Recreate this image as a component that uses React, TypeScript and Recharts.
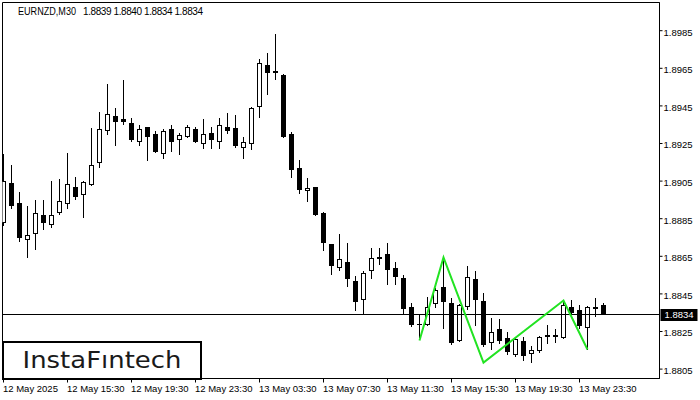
import React from 'react';
import { ComposedChart, Bar, Line, XAxis, YAxis, ReferenceLine, ReferenceArea } from 'recharts';

const symbol = 'EURNZD,M30';
const brand = 'InstaFıntech';

const timeTickIdx = [0, 8, 16, 24, 32, 40, 48, 56, 64, 72];
const timeLabels = [
  '12 May 2025',
  '12 May 15:30',
  '12 May 19:30',
  '12 May 23:30',
  '13 May 03:30',
  '13 May 07:30',
  '13 May 11:30',
  '13 May 15:30',
  '13 May 19:30',
  '13 May 23:30',
];

const priceTicks = [1.8805, 1.8825, 1.8845, 1.8865, 1.8885, 1.8905, 1.8925, 1.8945, 1.8965, 1.8985];

// OHLC, one entry per 30 min bar
const opens = [
  1.88828, 1.89041, 1.88931, 1.88736, 1.8877, 1.88872, 1.88815, 1.88879, 1.88927, 1.89021,
  1.88975, 1.89028, 1.89145, 1.89315, 1.89397, 1.89378, 1.8936, 1.89259, 1.89338, 1.89298,
  1.89195, 1.89328, 1.8927, 1.89286, 1.89328, 1.89248, 1.89307, 1.89259, 1.8934, 1.8933,
  1.89227, 1.89248, 1.89445, 1.8967, 1.89638, 1.89617, 1.89298, 1.89121, 1.88996, 1.8902,
  1.88881, 1.88713, 1.88589, 1.88621, 1.88521, 1.8842, 1.88571, 1.88633, 1.8866, 1.88589,
  1.88532, 1.88381, 1.88292, 1.88282, 1.88394, 1.88486, 1.88403, 1.88198, 1.88381, 1.8853,
  1.8841, 1.8819, 1.88261, 1.88213, 1.88126, 1.88202, 1.88131, 1.88144, 1.88232, 1.88232,
  1.88213, 1.88381, 1.88362, 1.8827, 1.88371, 1.8839,
];
const highs = [
  1.89192, 1.89138, 1.88991, 1.8892, 1.88952, 1.88952, 1.8905, 1.89059, 1.89197, 1.89071,
  1.8905, 1.8933, 1.8942, 1.89569, 1.8944, 1.8959, 1.89387, 1.89349, 1.8934, 1.89315,
  1.89328, 1.89349, 1.89307, 1.89349, 1.8934, 1.89378, 1.8934, 1.89387, 1.8941, 1.89399,
  1.89284, 1.89445, 1.89697, 1.89729, 1.8983, 1.8962, 1.8931, 1.8916, 1.89068, 1.89021,
  1.88888, 1.88715, 1.8877, 1.88722, 1.88544, 1.88571, 1.88692, 1.88692, 1.88722, 1.88622,
  1.88548, 1.88403, 1.8834, 1.88432, 1.88482, 1.88633, 1.88429, 1.88396, 1.88597, 1.88571,
  1.88456, 1.88323, 1.88314, 1.88248, 1.88222, 1.88222, 1.88172, 1.88225, 1.88282, 1.88261,
  1.8842, 1.8842, 1.88392, 1.88384, 1.88429, 1.884,
];
const lows = [
  1.8881, 1.88904, 1.88725, 1.8864, 1.88686, 1.88789, 1.88803, 1.88869, 1.88904, 1.88948,
  1.88855, 1.89025, 1.89119, 1.89294, 1.89236, 1.89346, 1.89257, 1.89236, 1.89156, 1.892,
  1.89169, 1.89204, 1.89188, 1.8928, 1.89254, 1.89223, 1.89223, 1.89223, 1.89303, 1.89228,
  1.89169, 1.89214, 1.89387, 1.89507, 1.89587, 1.8928, 1.89064, 1.88984, 1.88938, 1.88867,
  1.88677, 1.88549, 1.88571, 1.88488, 1.88358, 1.8834, 1.88527, 1.88603, 1.88496, 1.88496,
  1.8834, 1.88275, 1.88217, 1.88278, 1.88376, 1.88261, 1.88176, 1.88196, 1.88362, 1.88278,
  1.8817, 1.88151, 1.88181, 1.88124, 1.88115, 1.88092, 1.88084, 1.88138, 1.88181, 1.8819,
  1.8821, 1.8834, 1.88261, 1.88154, 1.88328, 1.8834,
];
const closes = [
  1.8905, 1.88917, 1.88746, 1.88761, 1.88881, 1.88826, 1.88871, 1.88942, 1.89032, 1.88963,
  1.89043, 1.89138, 1.89328, 1.89408, 1.89365, 1.89365, 1.89268, 1.89328, 1.89286, 1.89204,
  1.89319, 1.89259, 1.89296, 1.89337, 1.89259, 1.89298, 1.8927, 1.89351, 1.89315, 1.89236,
  1.89259, 1.8944, 1.89679, 1.89626, 1.89626, 1.89286, 1.89108, 1.89005, 1.89011, 1.88869,
  1.88722, 1.88597, 1.88633, 1.8853, 1.88408, 1.88562, 1.88642, 1.88647, 1.88576, 1.88541,
  1.88371, 1.88282, 1.8829, 1.88379, 1.8847, 1.88408, 1.8819, 1.88392, 1.88541, 1.88418,
  1.88176, 1.88248, 1.88198, 1.8814, 1.88211, 1.88119, 1.88154, 1.88222, 1.88222, 1.88222,
  1.88392, 1.88349, 1.88278, 1.88381, 1.88381, 1.8834,
];

// green pattern outline
const zigIdx = [52, 55, 60, 70, 73];
const zigPrice = [1.88202, 1.88644, 1.88085, 1.88415, 1.88154];

const lastPrice = 1.8834;

const data = opens.map((o, i) => ({
  k: i,
  o,
  h: highs[i],
  l: lows[i],
  c: closes[i],
  zig: zigIdx.includes(i) ? zigPrice[zigIdx.indexOf(i)] : null,
}));

const last = data[data.length - 1];
const FONT = '"Liberation Sans", Arial, sans-serif';

function Candle(props: any) {
  const { x, y, width, height, payload } = props;
  if (!payload || height == null) return null;
  const { o, h, l, c } = payload;
  const per = h - l > 0 ? height / (h - l) : 0;
  const py = (v: number) => y + (h - v) * per;
  const cx = Math.round(x + width / 2 - 0.5) + 0.5;
  const left = cx - 2.5;
  const top = Math.round(py(Math.max(o, c)));
  const bot = Math.round(py(Math.min(o, c)));
  const up = c > o;
  return (
    <g>
      <line x1={cx} x2={cx} y1={Math.round(y)} y2={Math.round(y + height)} stroke="#000" strokeWidth={1} />
      {up ? (
        <rect x={left + 0.5} y={top + 0.5} width={4} height={Math.max(bot - top - 1, 0)} fill="#fff" stroke="#000" strokeWidth={1} />
      ) : (
        <rect x={left} y={top} width={5} height={Math.max(bot - top, 1)} fill="#000" />
      )}
    </g>
  );
}

function TimeTick(props: any) {
  const { x, y, payload } = props;
  const idx = timeTickIdx.indexOf(payload.value);
  return (
    <text x={x - 0.5} y={y} dy="0.71em" textAnchor="start" fontSize={9.5} fontFamily={FONT} fill="#000">
      {timeLabels[idx]}
    </text>
  );
}

function PriceTick(props: any) {
  const { x, y, payload } = props;
  return (
    <text x={x} y={y + 1.5} dy="0.355em" textAnchor="start" fontSize={9.5} fontFamily={FONT} fill="#000">
      {Number(payload.value).toFixed(4)}
    </text>
  );
}

function PriceTag(props: any) {
  const vb = props.viewBox;
  if (!vb) return null;
  const tx = vb.x + vb.width + 1;
  const ty = Math.round(vb.y) - 6;
  return (
    <g>
      <rect x={tx} y={ty} width={37} height={12} fill="#000" />
      <text x={tx + 18.5} y={ty + 6} dy="0.355em" textAnchor="middle" fontSize={9.5} fontFamily={FONT} fill="#fff">
        {lastPrice.toFixed(4)}
      </text>
    </g>
  );
}

export default function App() {
  return (
    <div style={{ position: 'absolute', left: 0, top: 0, width: 700, height: 400, background: '#fff' }}>
      <ComposedChart width={700} height={400} data={data} margin={{ top: 2.5, right: 0, bottom: 0, left: 2.5 }}>
        <XAxis
          dataKey="k"
          type="number"
          domain={[-0.125, 82]}
          allowDataOverflow
          ticks={timeTickIdx}
          interval={0}
          height={21.5}
          tickSize={4}
          tickMargin={3}
          axisLine={{ stroke: '#000' }}
          tickLine={{ stroke: '#000' }}
          tick={(p: any) => <TimeTick {...p} />}
        />
        <YAxis
          orientation="right"
          type="number"
          domain={[1.88, 1.9]}
          allowDataOverflow
          ticks={priceTicks}
          interval={0}
          width={40.5}
          tickSize={3}
          tickMargin={1}
          axisLine={{ stroke: '#000' }}
          tickLine={{ stroke: '#000' }}
          tick={(p: any) => <PriceTick {...p} />}
        />
        <ReferenceArea x1={-0.125} x2={82} y1={1.88} y2={1.9} fill="none" stroke="#000" strokeWidth={1} fillOpacity={0} />
        <ReferenceLine y={lastPrice} stroke="#000" strokeWidth={1} shapeRendering="crispEdges" label={<PriceTag />} />
        <Bar
          dataKey={(d: any) => [d.l, d.h]}
          barSize={5}
          shape={(p: any) => <Candle {...p} />}
          isAnimationActive={false}
        />
        <Line
          dataKey="zig"
          type="linear"
          stroke="#22e322"
          strokeWidth={2}
          dot={false}
          activeDot={false}
          connectNulls
          isAnimationActive={false}
        />
      </ComposedChart>
      <svg width={700} height={400} style={{ position: 'absolute', left: 0, top: 0, pointerEvents: 'none' }}>
        <text x={18} y={14.5} fontSize={10} fontFamily={FONT} fill="#000" textLength={58} lengthAdjust="spacingAndGlyphs">
          {symbol}
        </text>
        <text x={83} y={14.5} fontSize={10} fontFamily={FONT} fill="#000" textLength={120} lengthAdjust="spacing">
          {[last.o, last.h, last.l, last.c].map((v) => v.toFixed(4)).join(' ')}
        </text>
        <rect x={3} y={342} width={198} height={37} fill="#fff" stroke="#000" strokeWidth={2} />
        <text
          x={22.5}
          y={367.5}
          fontSize={23}
          fontFamily='"DejaVu Sans", sans-serif'
          fill="#1a1a1a"
          textLength={159}
          lengthAdjust="spacingAndGlyphs"
        >
          {brand}
        </text>
      </svg>
    </div>
  );
}
